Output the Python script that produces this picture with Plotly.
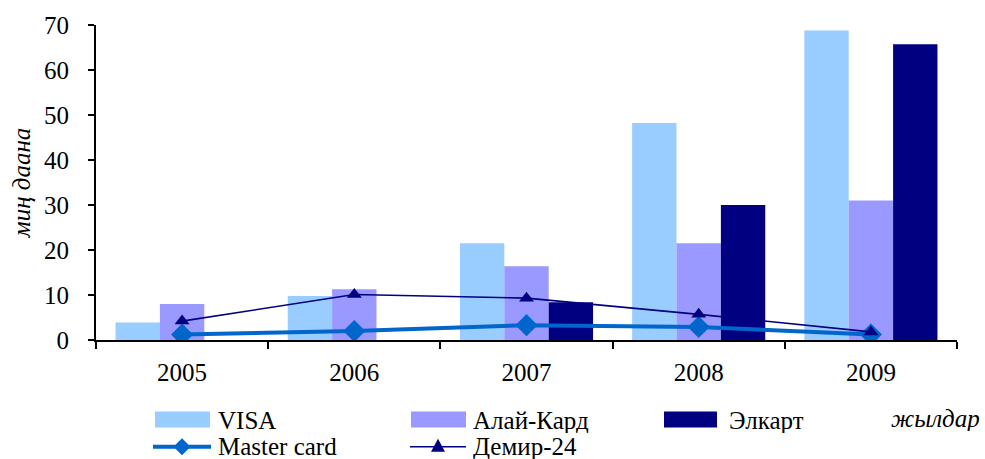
import plotly.graph_objects as go

years = ["2005", "2006", "2007", "2008", "2009"]
visa = [3.9, 9.8, 21.5, 48.2, 68.8]
alai = [8.0, 11.3, 16.4, 21.5, 31.0]
elkart = [None, None, 8.4, 30.0, 65.7]
master = [1.2, 2.0, 3.3, 2.9, 1.2]
demir = [4.2, 10.1, 9.3, 5.7, 1.8]

names = ["VISA", "Алай-Кард", "Элкарт", "Master card", "Демир-24"]
colors = ["#99CCFF", "#9999FF", "#000080", "#0066CC", "#000080"]

W, H = 985, 459
L, R, T, B = 96, 28, 23, 119
PW, PH = W - L - R, H - T - B

def px(x):
    return (x - L) / PW

def py(y):
    return (H - B - y) / PH

def ppath(points):
    return "M " + " L ".join(f"{px(x):.5f},{py(y):.5f}" for x, y in points) + " Z"

FONT = "Liberation Serif"
FS = 25

fig = go.Figure()
for vals, nm, col in zip([visa, alai, elkart], names[:3], colors[:3]):
    fig.add_trace(go.Bar(x=years, y=vals, name=nm, marker=dict(color=col, line=dict(width=0))))
fig.add_trace(go.Scatter(x=years, y=master, name=names[3], mode="lines+markers",
                         line=dict(color=colors[3], width=4),
                         marker=dict(symbol="diamond", size=17, color=colors[3])))
fig.add_trace(go.Scatter(x=years, y=demir, name=names[4], mode="lines+markers",
                         line=dict(color=colors[4], width=1.6),
                         marker=dict(symbol="triangle-up", size=13, color=colors[4])))

fig.update_layout(
    width=W, height=H,
    margin=dict(l=L, r=R, t=T, b=B),
    plot_bgcolor="white", paper_bgcolor="white",
    barmode="group", bargap=0.227, bargroupgap=0,
    showlegend=False,
    font=dict(family=FONT, size=FS, color="black"),
)
fig.update_xaxes(type="category", showline=True, linecolor="black", linewidth=2,
                 ticks="outside", tickson="boundaries", ticklen=7, tickwidth=2, tickcolor="black",
                 showgrid=False, tickfont=dict(family=FONT, size=FS), ticklabelstandoff=9)
fig.update_yaxes(range=[0, 70], dtick=10, showline=True, linecolor="black", linewidth=2,
                 ticks="outside", ticklen=6, tickwidth=2, tickcolor="black",
                 showgrid=False, zeroline=False, tickfont=dict(family=FONT, size=FS),
                 ticklabelstandoff=14,
                 title=dict(text="<i>миң даана</i>", font=dict(family=FONT, size=FS), standoff=6))

# custom legend
shapes = []
ann = []
row1, row2 = 420.0, 447.5
t1, t2 = 420.5, 446.5
BOXH = 26
swatches = [(155, 210, 216, names[0], colors[0]), (411, 466, 471, names[1], colors[1]),
            (664, 717, 727, names[2], colors[2])]
for x0, x1, tx, nm, col in swatches:
    shapes.append(dict(type="rect", xref="paper", yref="paper", x0=px(x0), x1=px(x1),
                       y0=py(row1 + 8), y1=py(row1 - 8), fillcolor=col, line=dict(width=0)))
    ann.append(dict(text=nm, xref="paper", yref="paper", x=px(tx), y=py(t1), xanchor="left",
                    yanchor="middle", showarrow=False, height=BOXH,
                    font=dict(family=FONT, size=FS)))
lines = [(153, 211, 216, names[3], colors[3], 4, "diamond"),
         (410, 466, 471, names[4], colors[4], 1.6, "triangle")]
for x0, x1, tx, nm, col, lw, sym in lines:
    shapes.append(dict(type="line", xref="paper", yref="paper", x0=px(x0), x1=px(x1),
                       y0=py(row2), y1=py(row2), line=dict(color=col, width=lw)))
    cx = (x0 + x1) / 2
    if sym == "diamond":
        pts = [(cx, row2 - 8.5), (cx + 8.5, row2), (cx, row2 + 8.5), (cx - 8.5, row2)]
    else:
        pts = [(cx, row2 - 8), (cx + 7, row2 + 5), (cx - 7, row2 + 5)]
    shapes.append(dict(type="path", xref="paper", yref="paper", path=ppath(pts),
                       fillcolor=col, line=dict(width=0)))
    ann.append(dict(text=nm, xref="paper", yref="paper", x=px(tx), y=py(t2), xanchor="left",
                    yanchor="middle", showarrow=False, height=BOXH,
                    font=dict(family=FONT, size=FS)))
ann.append(dict(text="<i>жылдар</i>", xref="paper", yref="paper", x=px(889), y=py(418),
                xanchor="left", yanchor="middle", showarrow=False, height=BOXH,
                font=dict(family=FONT, size=FS)))
fig.update_layout(shapes=shapes, annotations=ann)

fig.write_html("out.html", config={"displayModeBar": False},
               post_script="document.body.style.margin='0';document.body.style.overflow='hidden';")
